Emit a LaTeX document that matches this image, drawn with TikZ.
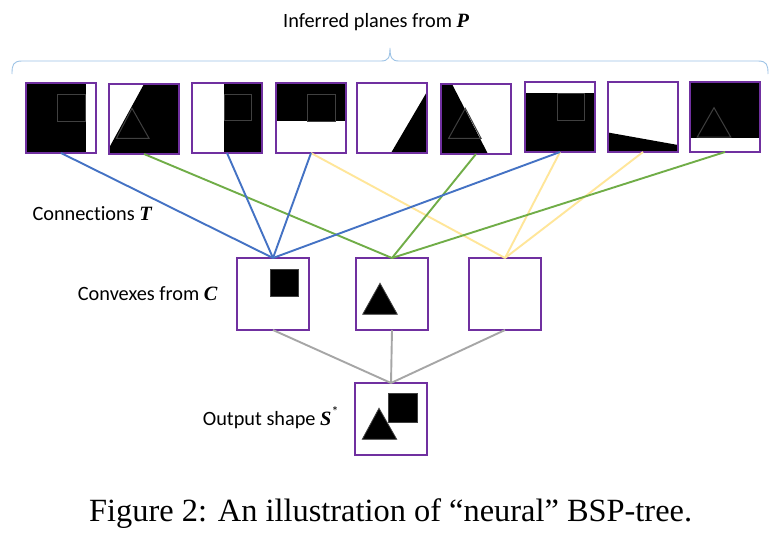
\documentclass[tikz,border=0pt]{standalone}
\usepackage{fontspec}
\setmainfont{Carlito}[Ligatures=NoCommon]
\newfontfamily\serifcap{Liberation Serif}
\newcommand{\bmv}[1]{{\serifcap\bfseries\itshape #1}}
\definecolor{boxpurple}{HTML}{7030A0}
\definecolor{lnblue}{HTML}{4472C4}
\definecolor{lngreen}{HTML}{70AD47}
\definecolor{lnyellow}{HTML}{FFE699}
\definecolor{lngray}{HTML}{A6A6A6}
\definecolor{bracecol}{HTML}{9DC3E6}
\definecolor{outl}{HTML}{404040}
\tikzset{
  planebox/.style={draw=boxpurple, line width=2pt, minimum size=70pt, inner sep=0pt, outer sep=0pt},
  convbox/.style={draw=boxpurple, line width=2pt, minimum size=72pt, inner sep=0pt, outer sep=0pt},
  ghost/.style={draw=outl, line width=1pt},
  conn/.style={line width=1.9pt},
  lbl/.style={anchor=base west, inner sep=0pt, font=\fontsize{20.3}{24}\selectfont},
}
\begin{document}
\begin{tikzpicture}[x=1pt, y=-1pt]
\useasboundingbox (0,0) rectangle (781,538);
\fill[white] (0,0) rectangle (781,538);

% title and brace
\node[lbl] (title) at (283,27.3) {Inferred planes from \bmv{P}};
\draw[bracecol, line width=0.9pt] (12,74) .. controls (12,65) and (13,61) .. (22,61) -- (381,61)
  .. controls (388,61) and (390,58) .. (390,48) .. controls (390,58) and (392,61) .. (399,61)
  -- (758,61) .. controls (767,61) and (768,65) .. (768,74);

% plane 1
\begin{scope}[shift={(26,83)}]
  \fill[black] (0,0) rectangle (59.5,70);
  \draw[ghost] (31.6,11.5) rectangle (59.3,38);
  \node[planebox] (p1) at (35,35) {};
\end{scope}
% plane 2
\begin{scope}[shift={(109,84)}]
  \fill[black] (35,0) -- (70,0) -- (70,70) -- (0,70) -- (0,64) -- cycle;
  \draw[ghost] (23,24.3) -- (40,54.3) -- (7.4,54.3) -- cycle;
  \node[planebox] (p2) at (35,35) {};
\end{scope}
% plane 3
\begin{scope}[shift={(192,83)}]
  \fill[black] (32,0) rectangle (70,70);
  \draw[ghost] (32,11) rectangle (59.5,37.7);
  \node[planebox] (p3) at (35,35) {};
\end{scope}
% plane 4
\begin{scope}[shift={(276,83)}]
  \fill[black] (0,0) rectangle (70,38);
  \draw[ghost] (31.6,11.3) rectangle (59,38);
  \node[planebox] (p4) at (35,35) {};
\end{scope}
% plane 5
\begin{scope}[shift={(357,83)}]
  \fill[black] (70,8.7) -- (70,70) -- (34,70) -- cycle;
  \node[planebox] (p5) at (35,35) {};
\end{scope}
% plane 6
\begin{scope}[shift={(441,84)}]
  \fill[black] (0,0) -- (11,0) -- (47,70) -- (0,70) -- cycle;
  \draw[ghost] (24.3,24.3) -- (40,54.3) -- (7.6,54.3) -- cycle;
  \node[planebox] (p6) at (35,35) {};
\end{scope}
% plane 7
\begin{scope}[shift={(525,82)}]
  \fill[black] (0,10.5) rectangle (70,70);
  \draw[ghost] (32,11.3) rectangle (59,38.3);
  \node[planebox] (p7) at (35,35) {};
\end{scope}
% plane 8
\begin{scope}[shift={(608,82)}]
  \fill[black] (0,50.5) -- (70,63) -- (70,70) -- (0,70) -- cycle;
  \node[planebox] (p8) at (35,35) {};
\end{scope}
% plane 9
\begin{scope}[shift={(690,82)}]
  \fill[black] (0,0) rectangle (70,55.5);
  \draw[ghost] (24,25.7) -- (40.7,55) -- (7.3,55) -- cycle;
  \node[planebox] (p9) at (35,35) {};
\end{scope}

% convexes
\begin{scope}[shift={(237,258)}]
  \filldraw[fill=black, draw=outl, line width=0.8pt] (33,11.3) rectangle (61.3,38.7);
  \node[convbox] (c1) at (36,36) {};
\end{scope}
\begin{scope}[shift={(356,258)}]
  \filldraw[fill=black, draw=outl, line width=0.8pt] (24,25.3) -- (41.3,56.3) -- (6.7,56.3) -- cycle;
  \node[convbox] (c2) at (36,36) {};
\end{scope}
\begin{scope}[shift={(469,258)}]
  \node[convbox] (c3) at (36,36) {};
\end{scope}

% output
\begin{scope}[shift={(355,383)}]
  \filldraw[fill=black, draw=outl, line width=0.8pt] (33.3,10.3) rectangle (62.3,39.3);
  \filldraw[fill=black, draw=outl, line width=0.8pt] (24,25.3) -- (41.7,56.3) -- (7.3,56.3) -- cycle;
  \node[convbox] (out) at (36,36) {};
\end{scope}

% connections T
\draw[conn, lnyellow] (p4.south) -- (c3.north);
\draw[conn, lnyellow] (p7.south) -- (c3.north);
\draw[conn, lnyellow] (p8.south) -- (c3.north);
\draw[conn, lngreen] (p2.south) -- (c2.north);
\draw[conn, lngreen] (p6.south) -- (c2.north);
\draw[conn, lngreen] (p9.south) -- (c2.north);
\draw[conn, lnblue] (p1.south) -- (c1.north);
\draw[conn, lnblue] (p3.south) -- (c1.north);
\draw[conn, lnblue] (p4.south) -- (c1.north);
\draw[conn, lnblue] (p7.south) -- (c1.north);

% union
\draw[conn, lngray] (c1.south) -- (out.north);
\draw[conn, lngray] (c2.south) -- (out.north);
\draw[conn, lngray] (c3.south) -- (out.north);

% labels
\node[lbl] (lconn) at (32.3,220) {Connections \bmv{T}};
\node[lbl] (lconv) at (77.7,300.7) {Convexes from \bmv{C}};
\node[lbl] (lout) at (202.7,425.7) {Output shape \bmv{S}\raisebox{0.45em}{\fontsize{14}{15}\selectfont *}};

% caption
\node[anchor=base west, inner sep=0pt, font=\serifcap\fontsize{32.4}{38}\selectfont] (cap) at (89,521.7) {Figure 2: An illustration of “neural” BSP-tree.};
\end{tikzpicture}
\end{document}
